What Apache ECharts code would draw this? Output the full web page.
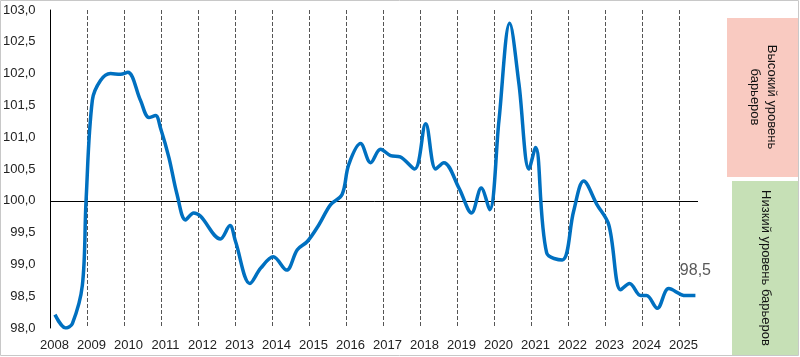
<!DOCTYPE html>
<html>
<head>
<meta charset="utf-8">
<script src="https://cdn.jsdelivr.net/npm/echarts@6/dist/echarts.min.js"></script>
<style>html,body{margin:0;padding:0;background:#fff}#c{width:800px;height:357px}</style>
</head>
<body>
<div id="c"></div>
<script>
// decimal year positions of the sampled curve
const years = [2008.12,2008.41,2008.59,2008.86,2008.96,2009.13,2009.35,2009.62,2009.89,2010.09,2010.43,2010.66,2010.84,2010.97,2011.2,2011.42,2011.65,2011.87,2012.05,2012.59,2012.85,2013.0,2013.39,2013.68,2014.02,2014.38,2014.67,2014.94,2015.25,2015.57,2015.88,2016.06,2016.38,2016.65,2016.92,2017.19,2017.45,2017.84,2018.14,2018.41,2018.63,2019.04,2019.38,2019.64,2019.87,2020.12,2020.41,2020.66,2020.93,2021.11,2021.41,2021.83,2022.14,2022.41,2022.77,2023.09,2023.41,2023.65,2023.95,2024.11,2024.40,2024.71,2025.16,2025.43];
const values = [98.21,98.0,98.07,98.67,100.0,101.58,101.89,102.0,101.99,102.02,101.58,101.31,101.34,101.15,100.68,100.1,99.70,99.81,99.76,99.40,99.61,99.36,98.70,98.94,99.12,98.91,99.23,99.36,99.62,99.94,100.10,100.57,100.90,100.60,100.81,100.71,100.69,100.50,101.21,100.50,100.60,100.20,99.81,100.20,99.86,101.26,102.79,101.84,100.50,100.84,99.18,99.07,99.84,100.31,99.94,99.62,98.60,98.70,98.51,98.51,98.31,98.62,98.51,98.51];
const highLabel = 'Высокий уровень\nбарьеров';
const lowLabel = 'Низкий уровень барьеров';
const baseline = 100;

const data = years.map((y, i) => [y, values[i]]);
const last = data[data.length - 1];

const chart = echarts.init(document.getElementById('c'), null, {renderer: 'canvas'});
chart.setOption({
  animation: false,
  backgroundColor: '#fff',
  grid: {left: 50, right: 102, top: 10, bottom: 29, containLabel: false},
  xAxis: {
    type: 'value', min: 2008, max: 2025.5, interval: 1,
    axisLine: {show: false}, axisTick: {show: false},
    splitLine: {show: true, showMinLine: false, showMaxLine: false,
      lineStyle: {color: '#555', type: [4, 2], width: 1}},
    axisLabel: {margin: 11, fontSize: 13, color: '#222', fontFamily: 'Liberation Sans, Arial, sans-serif',
      padding: [0, 0, 0, 8], showMaxLabel: false,
      formatter: v => Number.isInteger(v) ? String(v) : ''}
  },
  yAxis: {
    type: 'value', min: 98, max: 103, interval: 0.5,
    axisLine: {show: true, lineStyle: {color: '#000', width: 1}},
    axisTick: {show: false}, splitLine: {show: false},
    axisLabel: {margin: 15, fontSize: 13, color: '#222', fontFamily: 'Liberation Sans, Arial, sans-serif',
      formatter: v => v.toFixed(1).replace('.', ',')}
  },
  series: [{
    type: 'line', data: data, smooth: 0.35, showSymbol: false, symbol: 'none',
    lineStyle: {color: '#0070C0', width: 3.5}, itemStyle: {color: '#0070C0'}, z: 3,
    markLine: {silent: true, symbol: 'none', label: {show: false},
      lineStyle: {color: '#000', type: 'solid', width: 1}, z: 2,
      data: [{yAxis: baseline}]},
    markPoint: {silent: true, symbol: 'circle', symbolSize: 1,
      itemStyle: {color: 'rgba(0,0,0,0)'},
      label: {show: true, position: 'top', distance: 16, fontSize: 16, color: '#595959',
        fontFamily: 'Liberation Sans, Arial, sans-serif',
        formatter: p => p.data.coord[1].toFixed(1).replace('.', ',')},
      data: [{coord: last}]}
  }],
  graphic: [
    {type: 'rect', z: 0, shape: {x: 0.5, y: 0.5, width: 798, height: 355},
      style: {fill: 'none', stroke: '#c8c8c8', lineWidth: 1}},
    {type: 'rect', z: 1, shape: {x: 727, y: 18, width: 71, height: 159}, style: {fill: '#F9CAC1'}},
    {type: 'rect', z: 1, shape: {x: 732, y: 181, width: 66, height: 174}, style: {fill: '#C6E0B6'}},
    {type: 'text', z: 2, x: 763, y: 97, rotation: -Math.PI / 2,
      style: {text: highLabel, fill: '#111', font: '13px "Liberation Sans", Arial, sans-serif',
        align: 'center', verticalAlign: 'middle', lineHeight: 17}},
    {type: 'text', z: 2, x: 766, y: 268, rotation: -Math.PI / 2,
      style: {text: lowLabel, fill: '#111', font: '13px "Liberation Sans", Arial, sans-serif',
        align: 'center', verticalAlign: 'middle'}}
  ]
});
</script>
</body>
</html>
